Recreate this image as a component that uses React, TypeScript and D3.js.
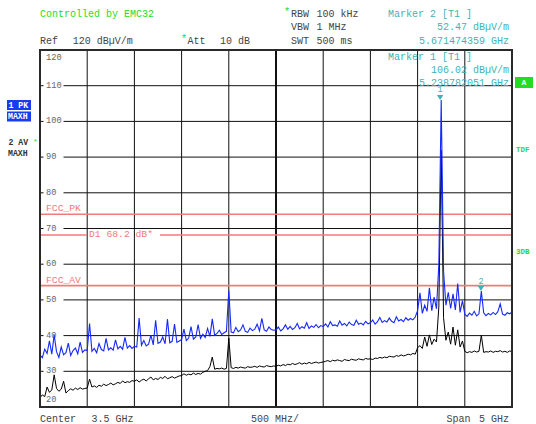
import React from "react";
import * as d3 from "d3";

// Sweep: 1 GHz .. 6 GHz, 201 points
const SWEEP_START_GHZ = 1;
const SWEEP_STEP_GHZ = 0.025;

// Trace 1: PK / MAXH (dBµV/m)
const TRACE_PK: number[] = [
  34.5, 33.8, 36.2, 35.0, 38.5, 34.8, 40.2, 35.5, 33.9, 36.8, 34.6, 35.2, 37.9, 34.4, 35.8, 36.5, 34.9, 38.2, 35.3, 36.0,
  35.8, 43.4, 35.6, 36.4, 35.2, 37.8, 36.1, 35.7, 39.2, 36.0, 36.6, 35.9, 38.8, 36.3, 37.0, 36.2, 39.5, 36.5, 37.2, 36.4,
  37.0, 36.8, 44.9, 37.3, 38.6, 37.1, 37.6, 40.1, 37.4, 44.3, 37.8, 38.2, 39.6, 37.7, 44.6, 38.0, 38.4, 43.2, 38.1, 38.5,
  38.9, 41.8, 38.6, 39.3, 42.5, 39.0, 39.6, 43.1, 39.2, 40.4, 39.5, 42.0, 39.8, 44.7, 40.1, 40.6, 41.5, 40.3, 40.8, 41.2,
  52.6, 41.0, 40.8, 42.3, 41.1, 41.6, 43.0, 41.2, 40.9, 42.1, 41.4, 41.8, 43.2, 41.3, 44.8, 41.6, 41.2, 42.4, 41.7, 41.5,
  41.6, 42.4, 41.3, 41.9, 43.0, 41.8, 42.6, 41.7, 42.2, 43.4, 41.9, 42.5, 42.1, 43.6, 42.0, 42.7, 42.3, 43.1, 42.2, 42.8,
  42.5, 43.3, 42.4, 43.9, 42.8, 43.0, 42.6, 44.1, 42.9, 43.4, 42.7, 43.8, 43.1, 42.9, 44.3, 43.2, 43.5, 43.0, 44.0, 43.3,
  43.6, 44.4, 43.2, 43.9, 45.1, 43.7, 44.2, 43.8, 44.9, 44.0, 43.6, 45.3, 44.1, 44.5, 43.9, 45.0, 44.3, 44.8, 44.4, 45.2,
  47.0, 52.0, 46.2, 48.5, 46.8, 53.4, 47.0, 50.8, 47.5, 60.0, 106.02, 58.0, 48.5, 52.1, 47.6, 51.7, 47.2, 54.6, 46.5, 49.8,
  46.0, 45.4, 46.3, 45.7, 46.8, 45.5, 46.1, 52.47, 46.4, 45.6, 46.2, 45.8, 46.5, 45.9, 46.7, 48.9, 46.0, 45.7, 46.4, 46.1,
  46.6,
];

// Trace 2: AV / MAXH (dBµV/m)
const TRACE_AV: number[] = [
  22.6, 23.4, 22.9, 25.6, 24.1, 24.8, 29.0, 25.2, 24.4, 25.0, 27.2, 23.9, 24.6, 25.1, 24.7, 25.3, 24.9, 25.4, 25.0, 25.2,
  25.3, 27.8, 25.6, 25.9, 25.5, 26.1, 25.8, 26.4, 26.0, 26.3, 26.7, 26.2, 26.5, 26.9, 26.6, 27.3, 26.8, 27.1, 26.9, 27.4,
  27.2, 27.6, 27.0, 27.5, 27.8, 27.3, 27.9, 28.4, 27.6, 28.0, 27.7, 28.3, 28.0, 28.6, 27.9, 28.2, 28.5, 28.1, 28.4, 28.7,
  28.8, 29.3, 28.9, 29.2, 29.0, 29.5, 29.1, 29.4, 29.2, 29.7, 30.0, 30.2, 31.3, 34.0, 30.6, 30.8, 30.7, 30.9, 30.6, 30.8,
  39.3, 31.0, 30.8, 31.1, 30.9, 31.2, 31.0, 30.9, 31.3, 31.1, 31.2, 31.4, 31.1, 31.5, 31.3, 31.2, 31.6, 31.4, 31.3, 31.5,
  31.4, 31.7, 31.5, 31.9, 31.6, 32.0, 31.8, 32.2, 31.9, 32.1, 32.4, 32.0, 32.3, 32.1, 32.5, 32.2, 32.4, 32.6, 32.3, 32.5,
  32.6, 32.8, 33.0, 32.7, 33.1, 32.9, 33.2, 33.0, 32.8, 33.3, 33.1, 33.0, 33.4, 33.2, 33.1, 33.5, 33.3, 33.2, 33.6, 33.4,
  33.5, 33.3, 33.7, 33.6, 33.9, 33.7, 34.0, 33.8, 34.2, 34.1, 34.0, 34.4, 34.2, 34.6, 34.3, 34.5, 34.8, 34.6, 35.0, 34.8,
  36.6, 37.2, 36.4, 39.6, 37.0, 40.2, 37.5, 39.0, 38.2, 48.0, 92.0, 45.0, 38.7, 41.0, 37.6, 42.4, 37.3, 41.6, 36.8, 38.5,
  35.6, 35.2, 35.5, 35.3, 35.7, 35.4, 35.6, 40.1, 35.3, 35.5, 35.4, 35.7, 35.3, 35.6, 35.5, 35.8, 35.4, 35.6, 35.3, 35.7,
  35.5,
];

// Level axis (dBµV/m)
const LEVEL_TICKS = [120, 110, 100, 90, 80, 70, 60, 50, 40, 30, 20];
// Frequency divisions (GHz)
const FREQ_GRID = [1, 1.5, 2, 2.5, 3, 3.5, 4, 4.5, 5, 5.5, 6];

// Display lines
const LIMIT_NAMES = ["FCC_PK", "FCC_AV"];
const LIMIT_LEVELS = [74, 54];
const DISPLAY_LINE_LABEL = "D1 68.2 dB*";
const DISPLAY_LINE_LEVEL = 68.2;

// Markers
const MARKER_IDS = [1, 2];
const MARKER_FREQS = [5.238782051, 5.671474359];
const MARKER_LEVELS = [106.02, 52.47];

const W = 536;
const H = 424;
const MONO = "'Liberation Mono', 'DejaVu Sans Mono', monospace";
const TEAL = "#3fb3b3";
const GREEN = "#22dd22";
const RED = "#f27a7a";
const BLUE = "#1428ff";

export default function App() {
  const x = d3.scaleLinear().domain([1, 6]).range([40, 512]);
  const y = d3.scaleLinear().domain([20, 120]).range([407, 50]);
  const freqs = TRACE_PK.map((_, i) => SWEEP_START_GHZ + i * SWEEP_STEP_GHZ);

  const line = d3
    .line<number>()
    .x((_, i) => x(freqs[i]))
    .y((d) => y(d));

  const txt = (
    s: string,
    px: number,
    py: number,
    fill: string,
    opts: { anchor?: string; size?: number; weight?: string } = {}
  ) => (
    <text
      x={px}
      y={py}
      fill={fill}
      fontFamily={MONO}
      fontSize={opts.size ?? 10}
      fontWeight={opts.weight ?? "normal"}
      textAnchor={opts.anchor ?? "start"}
      dominantBaseline="central"
    >
      {s}
    </text>
  );

  return (
    <svg
      width={W}
      height={H}
      style={{ position: "fixed", left: 0, top: 0, background: "#fff" }}
    >
      <rect x={0} y={0} width={W} height={H} fill="#fff" />

      {/* header */}
      {txt("Controlled by EMC32", 40, 14, GREEN)}
      {txt("Ref", 40, 41, "#444")}
      {txt("120 dBµV/m", 72.7, 41, "#444")}
      {txt("*", 181, 39, GREEN)}
      {txt("Att", 187.5, 41, "#444")}
      {txt("10 dB", 220, 41, "#444")}
      {txt("*", 284, 12, GREEN)}
      {txt("RBW", 291, 14, "#444")}
      {txt("100 kHz", 316.5, 14, "#444")}
      {txt("VBW", 291, 27.5, "#444")}
      {txt("1 MHz", 316.5, 27.5, "#444")}
      {txt("SWT", 291, 41, "#444")}
      {txt("500 ms", 316.5, 41, "#444")}

      {/* grid */}
      {LEVEL_TICKS.slice(1, -1).map((v) => (
        <line key={"h" + v} x1={40} x2={512} y1={y(v)} y2={y(v)} stroke="#111" strokeWidth={1} />
      ))}
      {FREQ_GRID.slice(1, -1).map((f) => (
        <line
          key={"v" + f}
          x1={x(f)}
          x2={x(f)}
          y1={50}
          y2={407}
          stroke="#111"
          strokeWidth={f === 3.5 ? 2 : 1}
        />
      ))}

      {/* level labels */}
      {LEVEL_TICKS.map((v, i) => {
        const ly = i === 0 ? y(v) + 8 : i === LEVEL_TICKS.length - 1 ? y(v) - 7 : y(v);
        return (
          <g key={"l" + v}>
            {i > 0 && i < LEVEL_TICKS.length - 1 && (
              <rect x={43.5} y={ly - 4} width={20} height={8} fill="#fff" />
            )}
            {txt(String(v), 46, ly, "#666", { size: 8.7 })}
          </g>
        );
      })}

      {/* limit lines */}
      {LIMIT_LEVELS.map((lv, i) => (
        <g key={"lim" + i}>
          <line x1={40} x2={512} y1={y(lv)} y2={y(lv)} stroke={RED} strokeWidth={1.6} />
          {txt(LIMIT_NAMES[i], 46, y(lv) - 5.5, RED, { size: 9.7 })}
        </g>
      ))}
      <line x1={40} x2={86.5} y1={y(DISPLAY_LINE_LEVEL)} y2={y(DISPLAY_LINE_LEVEL)} stroke={RED} strokeWidth={1.6} />
      <line x1={160} x2={512} y1={y(DISPLAY_LINE_LEVEL)} y2={y(DISPLAY_LINE_LEVEL)} stroke={RED} strokeWidth={1.6} />
      {txt(DISPLAY_LINE_LABEL, 89, y(DISPLAY_LINE_LEVEL), RED, { size: 9.7 })}

      {/* traces: AV underneath, PK on top */}
      <g clipPath="url(#plotclip)">
        <path d={line(TRACE_AV) ?? ""} fill="none" stroke="#000" strokeWidth={1} />
        <path d={line(TRACE_PK) ?? ""} fill="none" stroke={BLUE} strokeWidth={1.1} />
      </g>
      <defs>
        <clipPath id="plotclip">
          <rect x={40} y={50} width={472} height={357} />
        </clipPath>
      </defs>

      {/* markers */}
      {MARKER_IDS.map((id, i) => {
        const mx = x(MARKER_FREQS[i]);
        const my = y(MARKER_LEVELS[i]);
        return (
          <g key={"m" + id}>
            <path d={`M${mx - 3.2},${my - 5} L${mx + 3.2},${my - 5} L${mx},${my} Z`} fill={TEAL} />
            {txt(String(id), mx, my - 9.5, TEAL, { anchor: "middle", size: 8.5 })}
          </g>
        );
      })}

      {/* frame */}
      <rect x={40} y={50} width={472} height={357} fill="none" stroke="#2a2a2a" strokeWidth={2} />

      {/* marker readouts */}
      {txt(`Marker ${MARKER_IDS[1]} [T1 ]`, 388, 14, TEAL)}
      {txt(`${MARKER_LEVELS[1].toFixed(2)} dBµV/m`, 509, 27.5, TEAL, { anchor: "end" })}
      {txt(`${MARKER_FREQS[1].toFixed(9)} GHz`, 509, 41, TEAL, { anchor: "end" })}
      {txt(`Marker ${MARKER_IDS[0]} [T1 ]`, 388, 57, TEAL)}
      {txt(`${MARKER_LEVELS[0].toFixed(2)} dBµV/m`, 509, 70.5, TEAL, { anchor: "end" })}
      {txt(`${MARKER_FREQS[0].toFixed(9)} GHz`, 509, 83, TEAL, { anchor: "end" })}

      {/* right side annotations */}
      <rect x={515} y={77} width={18} height={11} fill={GREEN} />
      {txt("A", 524, 82.5, "#fff", { anchor: "middle", size: 8, weight: "bold" })}
      {txt("TDF", 516, 149.5, GREEN, { size: 7.5, weight: "bold" })}
      {txt("3DB", 516, 252, GREEN, { size: 7.5, weight: "bold" })}

      {/* trace labels */}
      <rect x={7} y={100} width={24} height={10} fill="#1a3cf0" />
      <rect x={7} y={111.5} width={24} height={10} fill="#1a3cf0" />
      {txt("1 PK", 8.5, 105, "#fff", { size: 8.2, weight: "bold" })}
      {txt("MAXH", 8, 116.5, "#fff", { size: 8.2, weight: "bold" })}
      {txt("2 AV", 8.5, 142, "#333", { size: 8.2, weight: "bold" })}
      {txt("*", 33, 141, GREEN, { size: 8 })}
      {txt("MAXH", 8, 153.5, "#333", { size: 8.2, weight: "bold" })}

      {/* footer */}
      {txt("Center", 40, 419, "#444")}
      {txt("3.5 GHz", 91.5, 419, "#444")}
      {txt("500 MHz/", 251, 419, "#444")}
      {txt("Span", 446.5, 419, "#444")}
      {txt("5 GHz", 509, 419, "#444", { anchor: "end" })}
    </svg>
  );
}
